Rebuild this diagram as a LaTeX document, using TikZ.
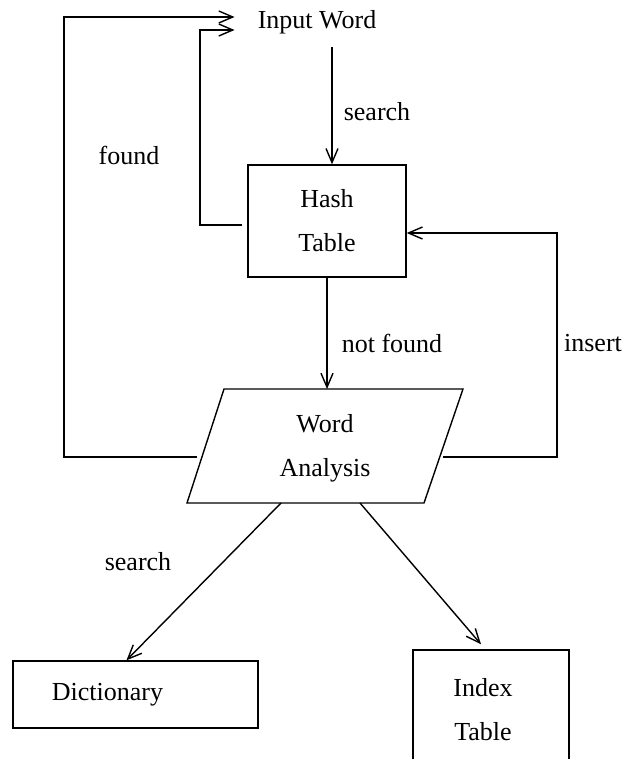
\documentclass[tikz,border=0pt]{standalone}
\usepackage{fontspec}
\setmainfont{Liberation Serif}
\usepackage{tikz}
\usetikzlibrary{positioning}
\usetikzlibrary{arrows.meta}
\tikzset{box/.style={draw, line width=1.4pt, align=center, inner sep=0pt}}
\tikzset{lbl/.style={inner sep=0pt, align=center}}
\tikzset{flow/.style={line width=1.4pt, -{Straight Barb[length=14pt,width=12pt,line width=1.4pt]}}}

\begin{document}
\begin{tikzpicture}[x=1pt,y=-1pt,font=\fontsize{26}{44}\selectfont]
\useasboundingbox (0,0) rectangle (627,759);
\clip (0,0) rectangle (627,759);
% boxes
\node[lbl] (in) at (317,22) {Input Word};
\node[box, minimum width=158pt, minimum height=112pt] (ht) at (327,221) {Hash\\Table};
\node[box, minimum width=245pt, minimum height=67pt] (dict) at (135.5,694.5) {Dictionary\hspace*{56pt}};
\node[box, minimum width=156pt, minimum height=120pt] (idx) at (491,710) {Index\hspace*{16pt}\\Table\hspace*{16pt}};
% word analysis
\coordinate (tl) at (224,389);
\coordinate (tr) at (463,389);
\coordinate (br) at (424,503);
\coordinate (bl) at (187,503);
\draw[line width=1.4pt] (tl) -- (tr) -- (br) -- (bl) -- cycle;
\node[lbl] (wa) at (325,448) {Word\\Analysis};
\coordinate (wal) at (197,457);
\coordinate (war) at (443,457);
% arrows
\draw[flow] ([shift={(15,13)}]in.south) -- ([xshift=5pt]ht.north);
\draw[flow] ([shift={(-5,4)}]ht.west) -| (200,32) |- ([shift={(-23,8)}]in.west);
\draw[flow] (wal) -| (64,17) -- ([shift={(-23,-5)}]in.west);
\draw[flow] (ht.south) -- (ht.south |- tl);
\draw[flow] (war) -| (557,233) -- ([shift={(0,12)}]ht.east);
\draw[flow] ([xshift=94pt]bl) -- ([xshift=-9pt]dict.north);
\draw[flow] ([xshift=173pt]bl) -- ([shift={(-10,-5)}]idx.north);
% labels
\node[lbl] (l1) at (377,112) {search};
\node[lbl] (l2) at (129,155) {found};
\node[lbl] (l3) at (392,343) {not found};
\node[lbl] (l4) at (593,343) {insert};
\node[lbl] (l5) at (138,562) {search};
\end{tikzpicture}
\end{document}
